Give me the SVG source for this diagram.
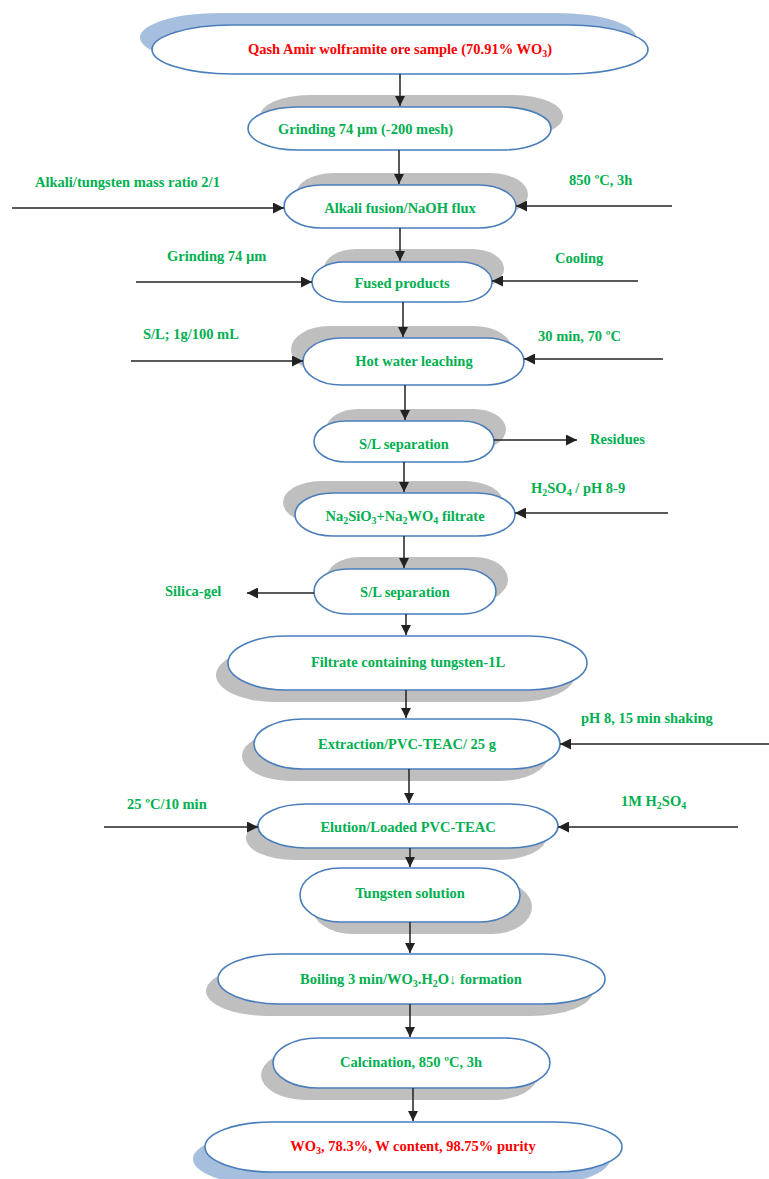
<svg xmlns="http://www.w3.org/2000/svg" width="769" height="1179" viewBox="0 0 769 1179">
<defs>
<style>
.sh{fill:#bfbfbf}
.shb{fill:#a7bfde}
.nd{fill:#fff;stroke:#4a7ebb;stroke-width:1.6}
.t{font-family:"Liberation Serif",serif;font-weight:bold;font-size:14.5px;fill:#00b050}
.tr{fill:#ff0000}
.c{text-anchor:middle}
.ln{stroke:#222;stroke-width:1.5;fill:none}
</style>
<marker id="ah" viewBox="0 0 10 10" refX="10" refY="5" markerWidth="10" markerHeight="10" markerUnits="userSpaceOnUse" orient="auto"><path d="M0,0 L10,5 L0,10 z" fill="#222"/></marker>
<marker id="ah2" viewBox="0 0 10 10" refX="10" refY="5" markerWidth="11" markerHeight="11" markerUnits="userSpaceOnUse" orient="auto"><path d="M0,0 L10,5 L0,10 z" fill="#222"/></marker>
</defs>
<rect width="769" height="1179" fill="#fff"/>

<g id="n1">
<rect class="shb" x="140" y="13" width="496" height="49" rx="80" ry="24.5"/>
<rect class="nd" x="152" y="25" width="496" height="49" rx="80" ry="24.5"/>
<text class="t tr c" x="400" y="54">Qash Amir wolframite ore sample (70.91% WO<tspan font-size="10" dy="3">3</tspan><tspan dy="-3">)</tspan></text>
</g>

<g id="n2">
<rect class="sh" x="260" y="95" width="303" height="43" rx="49" ry="21.5"/>
<rect class="nd" x="248" y="107" width="303" height="43" rx="49" ry="21.5"/>
<text class="t" x="278" y="134">Grinding 74 µm (-200 mesh)</text>
</g>

<g id="n3">
<rect class="sh" x="296" y="173" width="232" height="43" rx="37" ry="21.5"/>
<rect class="nd" x="284" y="185" width="232" height="43" rx="37" ry="21.5"/>
<text class="t c" x="400" y="213">Alkali fusion/NaOH flux</text>
</g>

<g id="n4">
<rect class="sh" x="324" y="249" width="180" height="40" rx="32" ry="20"/>
<rect class="nd" x="312" y="262" width="180" height="40" rx="32" ry="20"/>
<text class="t c" x="402" y="288">Fused products</text>
</g>

<g id="n5">
<rect class="sh" x="291" y="326" width="221" height="47" rx="38" ry="23.5"/>
<rect class="nd" x="303" y="338" width="221" height="47" rx="38" ry="23.5"/>
<text class="t c" x="414" y="366">Hot water leaching</text>
</g>

<g id="n6">
<rect class="sh" x="326" y="409" width="180" height="41" rx="32" ry="20.5"/>
<rect class="nd" x="314" y="421" width="180" height="41" rx="32" ry="20.5"/>
<text class="t c" x="404" y="449">S/L separation</text>
</g>

<g id="n7">
<rect class="sh" x="283" y="481" width="220" height="43" rx="38" ry="21.5"/>
<rect class="nd" x="295" y="493" width="220" height="43" rx="38" ry="21.5"/>
<text class="t c" x="405" y="521">Na<tspan font-size="10" dy="3">2</tspan><tspan dy="-3">SiO</tspan><tspan font-size="10" dy="3">3</tspan><tspan dy="-3">+Na</tspan><tspan font-size="10" dy="3">2</tspan><tspan dy="-3">WO</tspan><tspan font-size="10" dy="3">4</tspan><tspan dy="-3"> filtrate</tspan></text>
</g>

<g id="n8">
<rect class="sh" x="326" y="557" width="182" height="45" rx="33" ry="22.5"/>
<rect class="nd" x="314" y="569" width="182" height="45" rx="33" ry="22.5"/>
<text class="t c" x="405" y="597">S/L separation</text>
</g>

<g id="n9">
<rect class="sh" x="216" y="648" width="359" height="54" rx="58" ry="27"/>
<rect class="nd" x="228" y="636" width="359" height="54" rx="58" ry="27"/>
<text class="t c" x="408" y="667">Filtrate containing tungsten-1L</text>
</g>

<g id="n10">
<rect class="sh" x="242" y="731" width="306" height="50" rx="49" ry="25"/>
<rect class="nd" x="254" y="719" width="306" height="50" rx="49" ry="25"/>
<text class="t c" x="407" y="749">Extraction/PVC-TEAC/ 25 g</text>
</g>

<g id="n11">
<rect class="sh" x="246" y="816" width="300" height="44" rx="48" ry="22"/>
<rect class="nd" x="258" y="804" width="300" height="44" rx="48" ry="22"/>
<text class="t c" x="408" y="832">Elution/Loaded PVC-TEAC</text>
</g>

<g id="n12">
<rect class="sh" x="312" y="880" width="220" height="54" rx="40" ry="27"/>
<rect class="nd" x="300" y="868" width="220" height="54" rx="40" ry="27"/>
<text class="t c" x="410" y="898">Tungsten solution</text>
</g>

<g id="n13">
<rect class="sh" x="206" y="966" width="387" height="50" rx="62" ry="25"/>
<rect class="nd" x="218" y="954" width="387" height="50" rx="62" ry="25"/>
<text class="t c" x="411" y="984">Boiling 3 min/WO<tspan font-size="10" dy="3">3</tspan><tspan dy="-3">.H</tspan><tspan font-size="10" dy="3">2</tspan><tspan dy="-3">O↓ formation</tspan></text>
</g>

<g id="n14">
<rect class="sh" x="261" y="1050" width="277" height="50" rx="45" ry="25"/>
<rect class="nd" x="273" y="1038" width="277" height="50" rx="45" ry="25"/>
<text class="t c" x="411" y="1067">Calcination, 850 ºC, 3h</text>
</g>

<g id="n15">
<rect class="shb" x="193" y="1134" width="417" height="50" rx="67" ry="25"/>
<rect class="nd" x="205" y="1122" width="417" height="50" rx="67" ry="25"/>
<text class="t tr c" x="413" y="1151">WO<tspan font-size="10" dy="3">3</tspan><tspan dy="-3">, 78.3%, W content, 98.75% purity</tspan></text>
</g>

<g id="labels">
<text class="t" x="35" y="187">Alkali/tungsten mass ratio 2/1</text>
<text class="t" x="569" y="185">850 ºC, 3h</text>
<text class="t" x="167" y="261">Grinding 74 µm</text>
<text class="t" x="555" y="263">Cooling</text>
<text class="t" x="143" y="339">S/L; 1g/100 mL</text>
<text class="t" x="538" y="341">30 min, 70 ºC</text>
<text class="t" x="590" y="444">Residues</text>
<text class="t" x="531" y="493">H<tspan font-size="10" dy="3">2</tspan><tspan dy="-3">SO</tspan><tspan font-size="10" dy="3">4</tspan><tspan dy="-3"> / pH 8-9</tspan></text>
<text class="t" x="165" y="596">Silica-gel</text>
<text class="t" x="581" y="723">pH 8, 15 min shaking</text>
<text class="t" x="127" y="809">25 ºC/10 min</text>
<text class="t" x="621" y="806">1M H<tspan font-size="10" dy="3">2</tspan><tspan dy="-3">SO</tspan><tspan font-size="10" dy="3">4</tspan></text>
</g>

<g id="connectors">
<path class="ln" d="M400,74 V106" marker-end="url(#ah)"/>
<path class="ln" d="M399,150 V184" marker-end="url(#ah)"/>
<path class="ln" d="M400,228 V261" marker-end="url(#ah)"/>
<path class="ln" d="M403,302 V337" marker-end="url(#ah)"/>
<path class="ln" d="M405,385 V420" marker-end="url(#ah)"/>
<path class="ln" d="M404,462 V492" marker-end="url(#ah)"/>
<path class="ln" d="M404,536 V568" marker-end="url(#ah)"/>
<path class="ln" d="M406,614 V635" marker-end="url(#ah)"/>
<path class="ln" d="M406,690 V718" marker-end="url(#ah)"/>
<path class="ln" d="M409,769 V803" marker-end="url(#ah)"/>
<path class="ln" d="M410,848 V867" marker-end="url(#ah)"/>
<path class="ln" d="M410,922 V953" marker-end="url(#ah)"/>
<path class="ln" d="M410,1004 V1037" marker-end="url(#ah)"/>
<path class="ln" d="M413,1088 V1121" marker-end="url(#ah)"/>
<path class="ln" d="M12,208 H284" marker-end="url(#ah2)"/>
<path class="ln" d="M672,206 H516" marker-end="url(#ah2)"/>
<path class="ln" d="M136,282 H312" marker-end="url(#ah2)"/>
<path class="ln" d="M638,281 H492" marker-end="url(#ah2)"/>
<path class="ln" d="M131,361 H303" marker-end="url(#ah2)"/>
<path class="ln" d="M663,359 H524" marker-end="url(#ah2)"/>
<path class="ln" d="M494,440 H577" marker-end="url(#ah2)"/>
<path class="ln" d="M668,513 H515" marker-end="url(#ah2)"/>
<path class="ln" d="M314,593 H247" marker-end="url(#ah2)"/>
<path class="ln" d="M769,744 H560" marker-end="url(#ah2)"/>
<path class="ln" d="M104,827 H258" marker-end="url(#ah2)"/>
<path class="ln" d="M738,827 H558" marker-end="url(#ah2)"/>
</g>
</svg>
